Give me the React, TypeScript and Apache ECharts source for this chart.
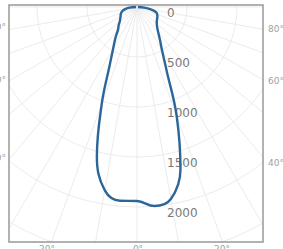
import React, { useEffect, useRef } from "react";
import * as echarts from "echarts";

// Photometric (luminous intensity) curve, angle from nadir (deg), intensity (cd)
const angles = [
  -90, -85, -80, -75, -70, -65, -60, -55, -50, -45, -40, -35, -30, -25, -20, -15, -10, -5,
  0, 5, 10, 15, 20, 25, 30, 35, 40, 45, 50, 55, 60, 65, 70, 75, 80, 85, 90,
];
const intensity = [
  10, 75, 120, 150, 168, 180, 190, 205, 225, 260, 295, 375, 475, 650, 1030, 1550, 1860, 1945,
  1940, 1998, 1950, 1680, 1160, 700, 500, 400, 330, 285, 258, 242, 232, 225, 215, 195, 140, 70, 10,
];
const radiusMax = 3000;
const radiusStep = 500;
const rightAngleLabels = ["80°", "60°", "40°"];
const leftAngleLabels = ["80°", "60°", "40°"];
const bottomAngleLabels = ["20°", "0°", "20°"];

export default function App() {
  const ref = useRef<HTMLDivElement>(null);
  useEffect(() => {
    if (!ref.current) return;
    const chart = echarts.init(ref.current, undefined, { renderer: "svg" });
    const data = angles.map((a, i) => [intensity[i], a < 0 ? a + 360 : a]);
    const rightY = [29, 81, 163];
    const leftY = [27, 80, 158];
    const bottomX = [47, 138, 222];
    const labelStyle = { fontSize: 9, fill: "#a0a0a0", fontFamily: "DejaVu Sans" };
    const graphics: any[] = [
      { type: "rect", shape: { x: 0, y: 0, width: 9, height: 249 }, style: { fill: "#fff" }, z: 50, silent: true },
      { type: "rect", shape: { x: 263, y: 0, width: 20, height: 249 }, style: { fill: "#fff" }, z: 50, silent: true },
      { type: "rect", shape: { x: 0, y: 242, width: 283, height: 7 }, style: { fill: "#fff" }, z: 50, silent: true },
      { type: "rect", shape: { x: 0, y: 0, width: 283, height: 5 }, style: { fill: "#fff" }, z: 50, silent: true },
      {
        type: "rect",
        shape: { x: 9, y: 5, width: 254, height: 237 },
        style: { fill: "none", stroke: "#999999", lineWidth: 1.5 },
        z: 60,
        silent: true,
      },
    ];
    rightAngleLabels.forEach((t, i) =>
      graphics.push({
        type: "text",
        x: 268,
        y: rightY[i],
        style: { ...labelStyle, text: t, align: "left", verticalAlign: "middle" },
        z: 70,
      })
    );
    leftAngleLabels.forEach((t, i) =>
      graphics.push({
        type: "text",
        x: 6,
        y: leftY[i],
        style: { ...labelStyle, text: t, align: "right", verticalAlign: "middle" },
        z: 70,
      })
    );
    bottomAngleLabels.forEach((t, i) =>
      graphics.push({
        type: "text",
        x: bottomX[i],
        y: 244,
        style: { ...labelStyle, text: t, align: "center", verticalAlign: "top" },
        z: 70,
      })
    );
    chart.setOption({
      animation: false,
      polar: { center: [137, 7], radius: 300 },
      angleAxis: {
        type: "value",
        min: 0,
        max: 360,
        interval: 10,
        startAngle: 270,
        clockwise: false,
        axisLine: { show: false },
        axisTick: { show: false },
        axisLabel: { show: false },
        splitLine: { show: true, lineStyle: { color: "#e6e6e6", width: 0.8 } },
      },
      radiusAxis: {
        type: "value",
        min: 0,
        max: radiusMax,
        interval: radiusStep,
        axisLine: { show: false },
        axisTick: { show: false },
        axisLabel: {
          show: true,
          margin: 30,
          color: "#7a7a7a",
          fontSize: 12,
          fontFamily: "DejaVu Sans",
          verticalAlign: "top",
          formatter: (v: number) => String(v),
        },
        splitLine: { show: true, lineStyle: { color: "#e6e6e6", width: 0.8 } },
      },
      graphic: graphics,
      series: [
        {
          type: "line",
          coordinateSystem: "polar",
          data,
          smooth: 0.4,
          symbol: "none",
          lineStyle: { color: "#2c6698", width: 2.4 },
          z: 10,
        },
      ],
    });
    return () => chart.dispose();
  }, []);
  return (
    <div
      ref={ref}
      style={{ position: "fixed", left: 0, top: 0, width: 283, height: 249, background: "#fff" }}
    />
  );
}
